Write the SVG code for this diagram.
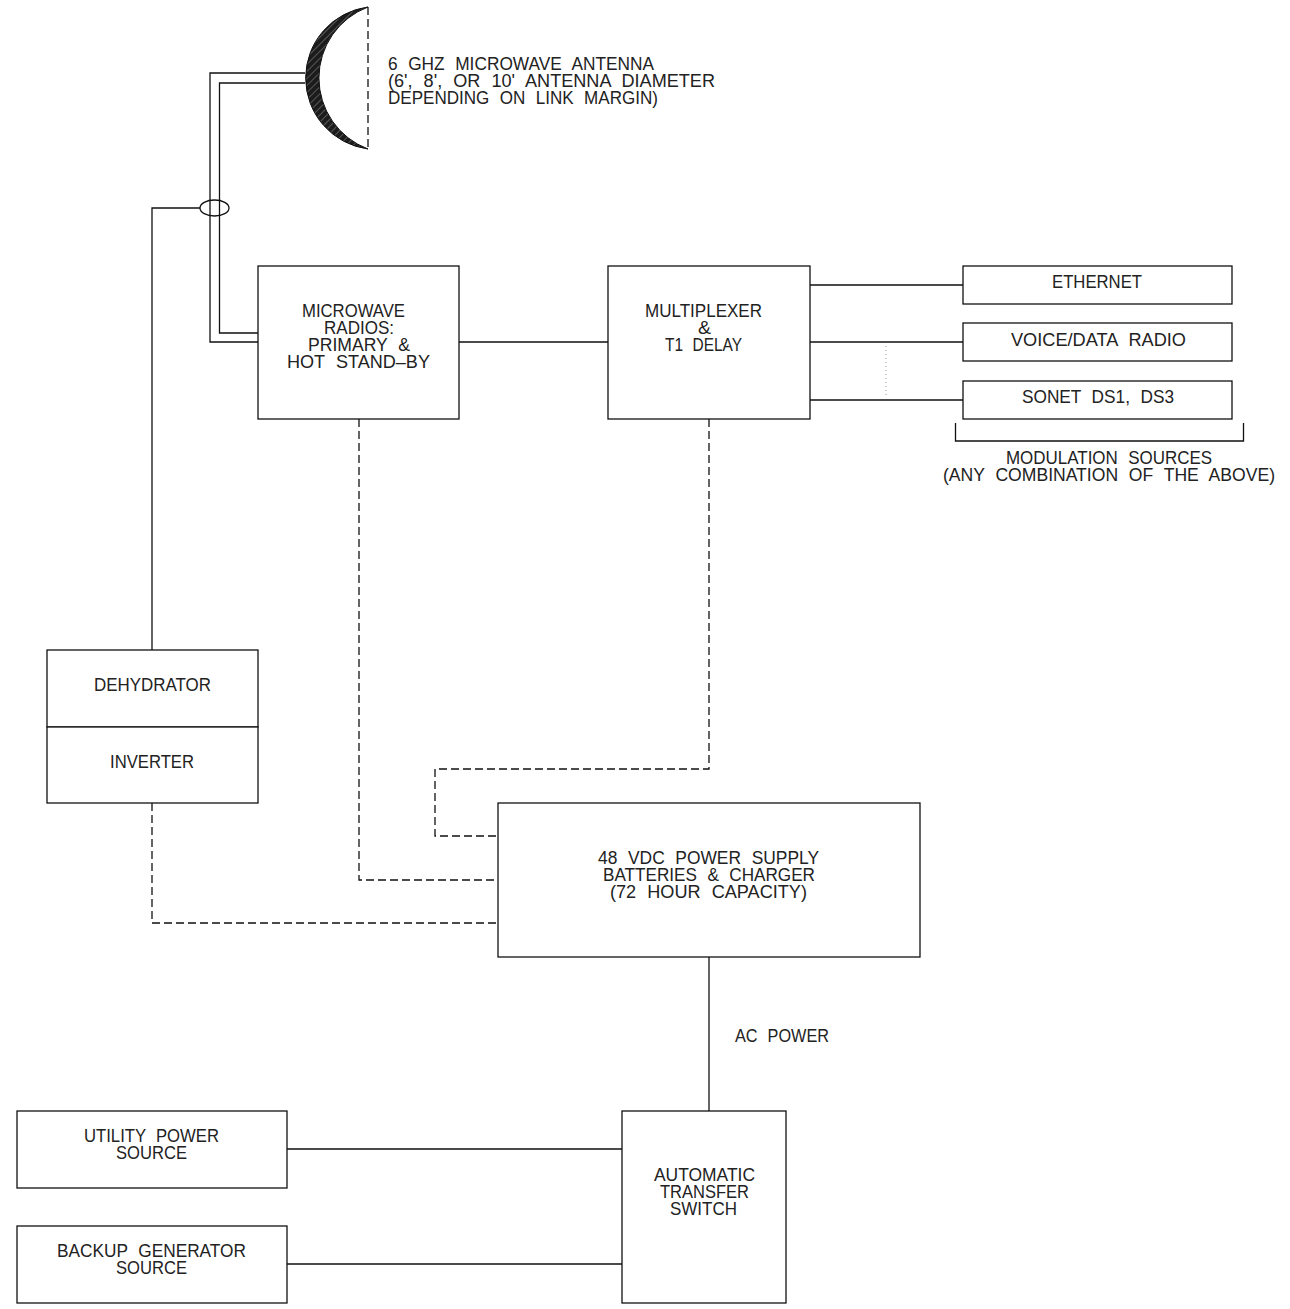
<svg xmlns="http://www.w3.org/2000/svg" width="1290" height="1309" viewBox="0 0 1290 1309">
<style>
.b{fill:#fff;stroke:#111;stroke-width:1.3}
.l{fill:none;stroke:#111;stroke-width:1.3}
.d{fill:none;stroke:#111;stroke-width:1.3;stroke-dasharray:8 4}
text{font-family:"Liberation Sans",Arial,sans-serif;font-size:18px;word-spacing:6px;fill:#222}
</style>
<defs>
<pattern id="hatch" width="5" height="5" patternUnits="userSpaceOnUse" patternTransform="rotate(-45)">
<rect width="5" height="5" fill="#1c1c1c"/>
<path d="M0 2.500H5" stroke="#666" stroke-width="0.8"/>
</pattern>
</defs>
<rect width="1290" height="1309" fill="#fff"/>
<g id="connectors">
<path class="l" d="M305 73H210V342H258M305 83H219.500V333H258"/>
<path class="l" d="M152 650V208H200"/>
<path class="l" d="M459 342H608M810 285H963M810 342H963M810 400H963"/>
<path fill="none" stroke="#999" stroke-width="1" stroke-dasharray="1 3" d="M886 346V396"/>
<path class="d" d="M709 419V769H435V836H497"/>
<path class="d" d="M359 419V880H497"/>
<path class="d" d="M152 803V923H497"/>
<path class="l" d="M709 957V1111"/>
<path class="l" d="M287 1149H622M287 1264H622"/>
<path class="l" d="M955.500 423V441H1243.500V423"/>
</g>
<g id="antenna">
<path d="M368 7A71.600 71.600 0 0 0 368 149A75.900 75.900 0 0 1 368 7Z" fill="url(#hatch)" stroke="#111" stroke-width="1"/>
<path class="d" d="M368 7V149"/>
<text x="388" y="70" textLength="266" lengthAdjust="spacingAndGlyphs">6 GHZ MICROWAVE ANTENNA</text>
<text x="388" y="87" textLength="327" lengthAdjust="spacingAndGlyphs">(6', 8', OR 10' ANTENNA DIAMETER</text>
<text x="388" y="104" textLength="270" lengthAdjust="spacingAndGlyphs">DEPENDING ON LINK MARGIN)</text>
</g>
<g id="coupler"><ellipse class="b" cx="214.500" cy="208" rx="14.500" ry="8" style="fill:none"/></g>
<g id="radios">
<rect class="b" x="258" y="266" width="201" height="153"/>
<text x="302" y="317" textLength="103" lengthAdjust="spacingAndGlyphs">MICROWAVE</text>
<text x="324" y="334" textLength="70" lengthAdjust="spacingAndGlyphs">RADIOS:</text>
<text x="308" y="351" textLength="102" lengthAdjust="spacingAndGlyphs">PRIMARY &amp;</text>
<text x="287" y="368" textLength="143" lengthAdjust="spacingAndGlyphs">HOT STAND–BY</text>
</g>
<g id="multiplexer">
<rect class="b" x="608" y="266" width="202" height="153"/>
<text x="645" y="317" textLength="117" lengthAdjust="spacingAndGlyphs">MULTIPLEXER</text>
<text x="698" y="334" textLength="13" lengthAdjust="spacingAndGlyphs">&amp;</text>
<text x="665" y="351" textLength="77" lengthAdjust="spacingAndGlyphs">T1 DELAY</text>
</g>
<g id="ethernet">
<rect class="b" x="963" y="266" width="269" height="38"/>
<text x="1052" y="288" textLength="90" lengthAdjust="spacingAndGlyphs">ETHERNET</text>
</g>
<g id="voice">
<rect class="b" x="963" y="323" width="269" height="38"/>
<text x="1011" y="346" textLength="175" lengthAdjust="spacingAndGlyphs">VOICE/DATA RADIO</text>
</g>
<g id="sonet">
<rect class="b" x="963" y="381" width="269" height="38"/>
<text x="1022" y="403" textLength="152" lengthAdjust="spacingAndGlyphs">SONET DS1, DS3</text>
</g>
<g id="modulation">
<text x="1006" y="464" textLength="206" lengthAdjust="spacingAndGlyphs">MODULATION SOURCES</text>
<text x="943" y="481" textLength="332" lengthAdjust="spacingAndGlyphs">(ANY COMBINATION OF THE ABOVE)</text>
</g>
<g id="dehydrator">
<rect class="b" x="47" y="650" width="211" height="77"/>
<text x="94" y="691" textLength="117" lengthAdjust="spacingAndGlyphs">DEHYDRATOR</text>
</g>
<g id="inverter">
<rect class="b" x="47" y="727" width="211" height="76"/>
<text x="110" y="768" textLength="84" lengthAdjust="spacingAndGlyphs">INVERTER</text>
</g>
<g id="power-supply">
<rect class="b" x="498" y="803" width="422" height="154"/>
<text x="598" y="864" textLength="221" lengthAdjust="spacingAndGlyphs">48 VDC POWER SUPPLY</text>
<text x="603" y="881" textLength="212" lengthAdjust="spacingAndGlyphs">BATTERIES &amp; CHARGER</text>
<text x="610" y="898" textLength="197" lengthAdjust="spacingAndGlyphs">(72 HOUR CAPACITY)</text>
</g>
<g id="ac-label"><text x="735" y="1042" textLength="94" lengthAdjust="spacingAndGlyphs">AC POWER</text></g>
<g id="utility">
<rect class="b" x="17" y="1111" width="270" height="77"/>
<text x="84" y="1142" textLength="135" lengthAdjust="spacingAndGlyphs">UTILITY POWER</text>
<text x="116" y="1159" textLength="71" lengthAdjust="spacingAndGlyphs">SOURCE</text>
</g>
<g id="generator">
<rect class="b" x="17" y="1226" width="270" height="77"/>
<text x="57" y="1257" textLength="189" lengthAdjust="spacingAndGlyphs">BACKUP GENERATOR</text>
<text x="116" y="1274" textLength="71" lengthAdjust="spacingAndGlyphs">SOURCE</text>
</g>
<g id="transfer-switch">
<rect class="b" x="622" y="1111" width="164" height="192"/>
<text x="654" y="1181" textLength="101" lengthAdjust="spacingAndGlyphs">AUTOMATIC</text>
<text x="660" y="1198" textLength="89" lengthAdjust="spacingAndGlyphs">TRANSFER</text>
<text x="670" y="1215" textLength="67" lengthAdjust="spacingAndGlyphs">SWITCH</text>
</g>
</svg>
